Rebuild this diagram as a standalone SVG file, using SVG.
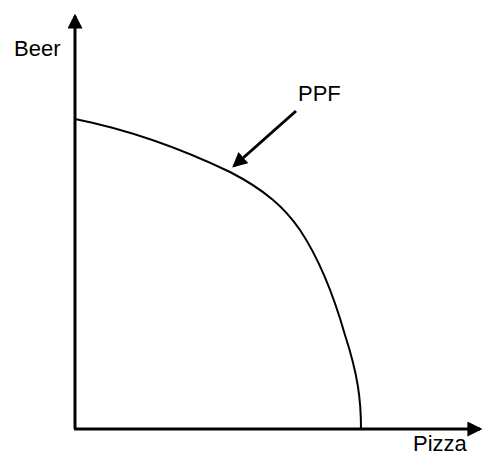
<svg xmlns="http://www.w3.org/2000/svg" width="485" height="456" viewBox="0 0 485 456">
<style>
.ax{stroke:#000;stroke-width:3;fill:none}
.cv{stroke:#000;stroke-width:2;fill:none}
text{font-family:"Liberation Sans",Arial,sans-serif;font-size:22px;fill:#000}
</style>
<defs>
<marker id="ah" markerWidth="5" markerHeight="5" refX="4.2" refY="2.5" orient="auto" markerUnits="strokeWidth">
<path d="M0,0 L5,2.5 L0,5 Z" fill="#000"/>
</marker>
</defs>
<g id="axes">
<path class="ax" d="M75,429 L75,16" marker-end="url(#ah)"/>
<path class="ax" d="M74,429 L480,429" marker-end="url(#ah)"/>
</g>
<g id="ppf-curve">
<path class="cv" d="M75,119 C130,130 180,148 230,172 C265,190 285,208 300,230 C320,260 335,300 345,335 C358,375 361,400 361,429"/>
</g>
<g id="connectors">
<path class="ax" d="M296,111 L234,166" marker-end="url(#ah)"/>
</g>
<g id="labels">
<text x="14" y="56">Beer</text>
<text x="298" y="101">PPF</text>
<text x="413" y="451">Pizza</text>
</g>
</svg>
